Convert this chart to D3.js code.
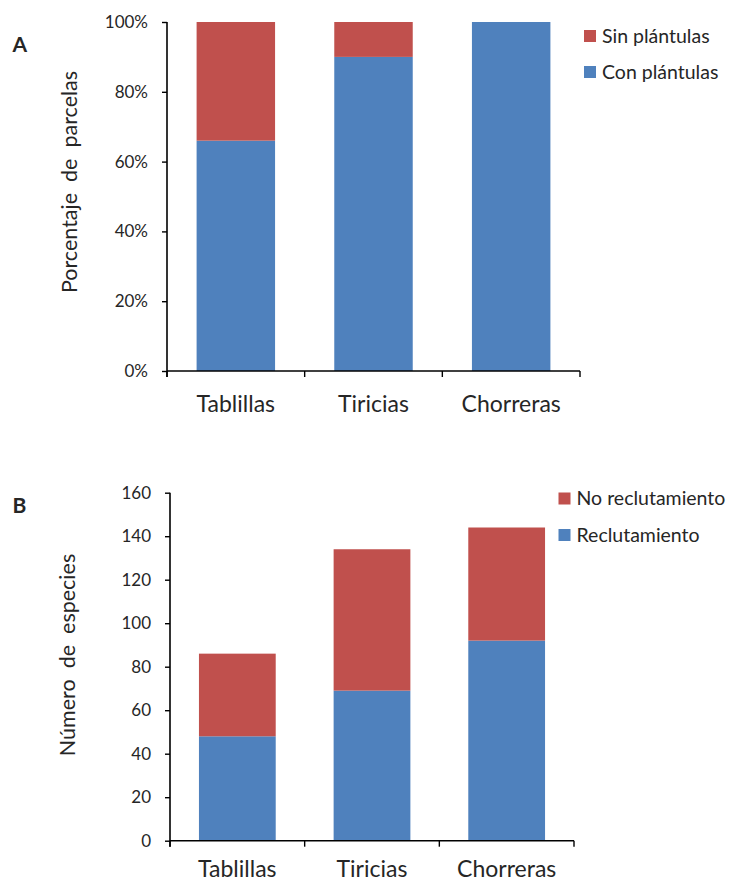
<!DOCTYPE html>
<html>
<head>
<meta charset="utf-8">
<script src="https://cdn.jsdelivr.net/npm/d3@7"></script>
<style>
  html, body { margin: 0; padding: 0; background: #fff; }
  svg { display: block; }
  text { font-family: Lato, "Open Sans", sans-serif; fill: #262626; }
</style>
</head>
<body>
<svg id="chart" width="730" height="882"></svg>
<script>
// ---- data ----
const categories = ["Tablillas", "Tiricias", "Chorreras"];

// Panel A: percentage of plots
const seriesA = ["Con plántulas", "Sin plántulas"];
const conPlantulas = [66, 90, 100];
const sinPlantulas = [34, 10, 0];
const ticksA = [0, 20, 40, 60, 80, 100];

// Panel B: number of species
const seriesB = ["Reclutamiento", "No reclutamiento"];
const reclutamiento = [48, 69, 92];
const noReclutamiento = [38, 65, 52];
const ticksB = [0, 20, 40, 60, 80, 100, 120, 140, 160];

const BLUE = "#4F81BD", RED = "#C0504D";
const svg = d3.select("#chart");

function panel(cfg) {
  const g = svg.append("g");
  const x = d3.scaleBand().domain(categories).range([cfg.x0, cfg.x1])
    .paddingInner(0.43).paddingOuter(0.215);
  const y = d3.scaleLinear().domain([0, cfg.max]).range([cfg.y0, cfg.y1]);

  const rows = categories.map((c, i) => ({cat: c, s0: cfg.lower[i], s1: cfg.upper[i]}));
  const stack = d3.stack().keys(["s0", "s1"])(rows);
  const colors = [BLUE, RED];
  stack.forEach((layer, li) => {
    g.append("g").selectAll("rect").data(layer).join("rect")
      .attr("x", d => x(d.data.cat))
      .attr("width", x.bandwidth())
      .attr("y", d => y(d[1]))
      .attr("height", d => Math.max(0, y(d[0]) - y(d[1])))
      .attr("fill", colors[li]);
  });

  // y axis
  const ya = g.append("g").attr("transform", `translate(${cfg.x0},0)`)
    .call(d3.axisLeft(y).tickValues(cfg.ticks).tickSize(5).tickPadding(14)
      .tickFormat(cfg.fmt));
  ya.select(".domain").attr("stroke", "#000").attr("stroke-width", 1.6)
    .attr("d", `M0,${cfg.y1}V${cfg.y0 + 6}`);
  ya.selectAll(".tick line").attr("stroke", "#000").attr("stroke-width", 1.4);
  ya.selectAll(".tick text").attr("font-size", 17).attr("fill", "#262626")
    .style("font-family", "Lato");

  // x axis: tick marks at band boundaries
  const xa = g.append("g").attr("transform", `translate(0,${cfg.y0})`);
  xa.append("line").attr("x1", cfg.x0).attr("x2", cfg.x1)
    .attr("stroke", "#000").attr("stroke-width", 1.6);
  const edges = [cfg.x0].concat(categories.map((c, i) => cfg.x0 + x.step() * (i + 1)));
  xa.selectAll("line.tk").data(edges).join("line").attr("class", "tk")
    .attr("x1", d => d).attr("x2", d => d).attr("y1", 0).attr("y2", 6)
    .attr("stroke", "#000").attr("stroke-width", 1.4);
  xa.selectAll("text.cat").data(categories).join("text").attr("class", "cat")
    .attr("x", d => x(d) + x.bandwidth() / 2).attr("y", cfg.catDy)
    .attr("text-anchor", "middle").attr("font-size", 23).text(d => d);

  // y title
  g.append("text")
    .attr("transform", `translate(${cfg.titleX},${cfg.titleY}) rotate(-90)`)
    .attr("text-anchor", "middle").attr("font-size", 21.5)
    .style("white-space", "pre").text(cfg.title);

  // panel letter
  g.append("text").attr("x", 12.5).attr("y", cfg.letterY)
    .attr("font-size", 21).attr("font-weight", "bold").attr("fill", "#000")
    .text(cfg.letter);

  // legend (upper series first)
  const leg = g.append("g");
  const items = [{name: cfg.series[1], color: RED}, {name: cfg.series[0], color: BLUE}];
  items.forEach((it, i) => {
    const yy = cfg.legY + i * cfg.legStep;
    leg.append("rect").attr("x", cfg.legX).attr("y", yy - 6).attr("width", 12).attr("height", 12)
      .attr("fill", it.color);
    leg.append("text").attr("x", cfg.legX + 18).attr("y", yy).attr("dy", "0.35em")
      .attr("font-size", 19.5).text(it.name);
  });
}

panel({
  x0: 167, x1: 580, y0: 371, y1: 22, max: 100,
  lower: conPlantulas, upper: sinPlantulas, ticks: ticksA,
  fmt: d => d + "%", series: seriesA, catDy: 40.5,
  title: "Porcentaje  de  parcelas", titleX: 77, titleY: 182,
  letter: "A", letterY: 52, legX: 584, legY: 36, legStep: 36
});

panel({
  x0: 170, x1: 574, y0: 840.7, y1: 492.7, max: 160,
  lower: reclutamiento, upper: noReclutamiento, ticks: ticksB,
  fmt: d => d, series: seriesB, catDy: 36.5,
  title: "Número  de  especies", titleX: 75, titleY: 655,
  letter: "B", letterY: 513, legX: 558.5, legY: 498.5, legStep: 36.5
});
</script>
</body>
</html>
